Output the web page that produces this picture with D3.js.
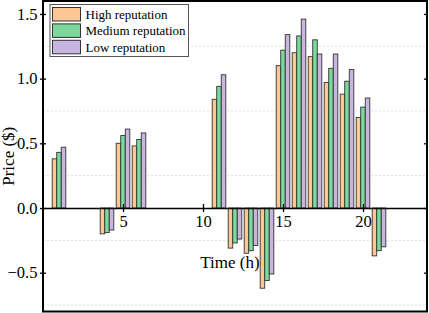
<!DOCTYPE html>
<html>
<head>
<meta charset="utf-8">
<script src="https://cdn.jsdelivr.net/npm/d3@7"></script>
<style>
	body { margin: 0; background: #fff; }
	svg { display: block; font-family: "Liberation Serif", "Times New Roman", serif; }
	.grid line { stroke: #ddd; stroke-dasharray: 2,2; }
</style>
</head>
<body>
<div class="chart"></div>
<script>
// hourly prices per reputation level (hours with no bar are left out)
const hours = [1, 4, 5, 6, 11, 12, 13, 14, 15, 16, 17, 18, 19, 20, 21]
const high = [0.38, -0.20, 0.50, 0.48, 0.84, -0.31, -0.35, -0.62, 1.10, 1.20, 1.17, 0.97, 0.88, 0.70, -0.37]
const medium = [0.43, -0.19, 0.56, 0.53, 0.94, -0.27, -0.33, -0.56, 1.22, 1.33, 1.30, 1.08, 0.98, 0.78, -0.33]
const low = [0.47, -0.17, 0.61, 0.58, 1.03, -0.24, -0.29, -0.51, 1.34, 1.46, 1.19, 1.19, 1.07, 0.85, -0.30]
const seriesNames = ["High reputation", "Medium reputation", "Low reputation"]
const xTicks = [5, 10, 15, 20]
const yTicks = [-0.5, 0.0, 0.5, 1.0, 1.5]
const gridTicks = [-0.75, -0.25, 0.25, 0.75, 1.25]

const colors = ["#fdc692", "#7dd89c", "#c6b5e0"]
const serif = "'Liberation Serif', 'Times New Roman', serif"

let width = 429
let height = 313
let plotLeft = 43, plotRight = 427, plotTop = 1, plotBottom = 311.5

const svg = d3.select(".chart").append("svg")
	.attr("width", width)
	.attr("height", height)

let xScale = d3.scaleLinear()
	.domain([0, 24])
	.range([plotLeft, plotRight])

let yScale = d3.scaleLinear()
	.domain([-0.8, 1.6])
	.range([plotBottom, plotTop])

let subScale = d3.scaleBand()
	.domain(seriesNames)
	.range([-6.8, 6.8])

// grid
svg.append("g")
	.attr("class", "grid")
	.selectAll("line")
	.data(gridTicks)
	.enter()
	.append("line")
		.attr("x1", plotLeft)
		.attr("x2", plotRight)
		.attr("y1", d => yScale(d))
		.attr("y2", d => yScale(d))

// bars
let rows = []
const allSeries = [high, medium, low]
for (let s = 0; s < allSeries.length; s++) {
	for (let i = 0; i < hours.length; i++) {
		rows.push({ hour: hours[i], value: allSeries[s][i], series: seriesNames[s], idx: s })
	}
}

svg.append("g")
	.selectAll("rect")
	.data(rows)
	.enter()
	.append("rect")
		.attr("x", d => xScale(d.hour) + subScale(d.series))
		.attr("width", subScale.bandwidth())
		.attr("y", d => yScale(Math.max(0, d.value)))
		.attr("height", d => Math.abs(yScale(d.value) - yScale(0)))
		.attr("fill", d => colors[d.idx])
		.attr("stroke", "#333")
		.attr("stroke-width", 0.9)

// axes
let yAxis = d3.axisLeft(yScale).tickValues(yTicks).tickFormat(d3.format(".1f")).tickSizeInner(3).tickSizeOuter(0).tickPadding(2.5)
let yG = svg.append("g")
	.attr("transform", "translate(" + plotLeft + ",0)")
	.call(yAxis)
	.attr("font-family", serif)
	.attr("font-size", 16.5)
yG.select(".domain").remove()
yG.selectAll(".tick line").attr("x2", 3).attr("x1", -3).attr("stroke", "#000").attr("stroke-width", 1.3)

let yAxisR = d3.axisRight(yScale).tickValues(yTicks).tickFormat("").tickSizeInner(-3).tickSizeOuter(0)
let yGR = svg.append("g")
	.attr("transform", "translate(" + plotRight + ",0)")
	.call(yAxisR)
yGR.select(".domain").remove()
yGR.selectAll(".tick line").attr("stroke", "#000").attr("stroke-width", 1.3)

let xAxis = d3.axisBottom(xScale).tickValues(xTicks).tickSizeInner(4).tickSizeOuter(0).tickPadding(3)
let xG = svg.append("g")
	.attr("transform", "translate(0," + yScale(0) + ")")
	.call(xAxis)
	.attr("font-family", serif)
	.attr("font-size", 16.5)
xG.select(".domain").attr("stroke", "#000").attr("stroke-width", 1.5)
xG.selectAll(".tick line").attr("y1", -4).attr("stroke", "#000").attr("stroke-width", 1.3)

// frame
svg.append("rect")
	.attr("x", plotLeft)
	.attr("y", plotTop)
	.attr("width", plotRight - plotLeft)
	.attr("height", plotBottom - plotTop)
	.attr("fill", "none")
	.attr("stroke", "#000")
	.attr("stroke-width", 2)

// axis titles
svg.append("text")
	.attr("x", 230)
	.attr("y", 268)
	.attr("text-anchor", "middle")
	.attr("font-size", 17)
	.text("Time (h)")

svg.append("text")
	.attr("transform", "translate(14," + ((plotTop + plotBottom) / 2) + ") rotate(-90)")
	.attr("text-anchor", "middle")
	.attr("font-size", 17)
	.text("Price ($)")

// legend
let legend = svg.append("g")

legend.append("rect")
	.attr("x", 50)
	.attr("y", 4.5)
	.attr("width", 138.5)
	.attr("height", 52)
	.attr("fill", "#fff")
	.attr("stroke", "#555")
	.attr("stroke-width", 1)

let items = legend.selectAll("g.item")
	.data(seriesNames)
	.enter()
	.append("g")
		.attr("class", "item")
		.attr("transform", (d, i) => "translate(0," + (i * 16.4) + ")")

items.append("rect")
	.attr("x", 52.5)
	.attr("y", 7.5)
	.attr("width", 28)
	.attr("height", 13.5)
	.attr("fill", (d, i) => colors[i])
	.attr("stroke", "#333")
	.attr("stroke-width", 1)

items.append("text")
	.attr("x", 85.5)
	.attr("y", 19)
	.attr("font-size", 13)
	.text(d => d)
</script>
</body>
</html>
